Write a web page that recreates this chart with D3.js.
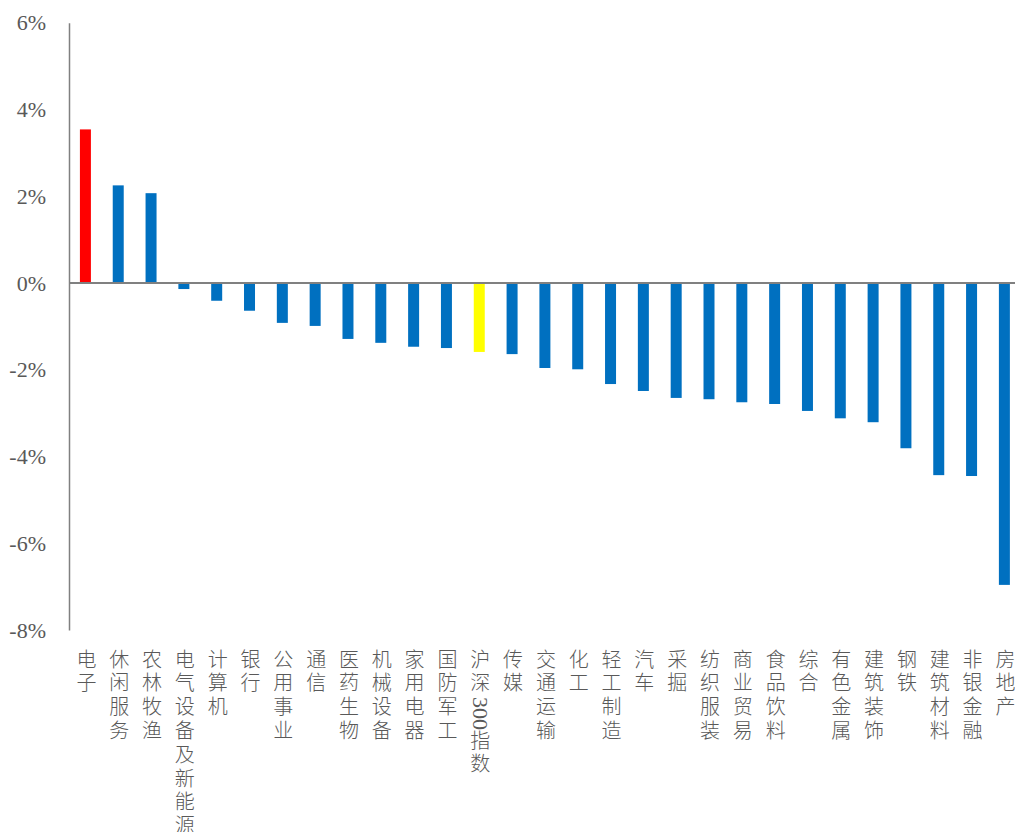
<!DOCTYPE html>
<html><head><meta charset="utf-8">
<script src="https://cdn.jsdelivr.net/npm/d3@7"></script>
<style>
html,body{margin:0;padding:0;background:#fff;}
.cat{writing-mode:vertical-rl;text-orientation:mixed;}
</style></head>
<body>
<svg id="chart" width="1015" height="832"></svg>
<script>
const categories = ["电子","休闲服务","农林牧渔","电气设备及新能源","计算机","银行","公用事业","通信","医药生物","机械设备","家用电器","国防军工","沪深300指数","传媒","交通运输","化工","轻工制造","汽车","采掘","纺织服装","商业贸易","食品饮料","综合","有色金属","建筑装饰","钢铁","建筑材料","非银金融","房地产"];
const values = [3.54,2.25,2.07,-0.14,-0.41,-0.64,-0.92,-0.99,-1.29,-1.38,-1.47,-1.50,-1.59,-1.64,-1.96,-1.99,-2.33,-2.49,-2.65,-2.68,-2.75,-2.79,-2.95,-3.12,-3.21,-3.81,-4.43,-4.45,-6.96];
const yTicks = [6,4,2,0,-2,-4,-6,-8];
const highlight = {"电子":"#FF0000","沪深300指数":"#FFFF00"};
const baseColor = "#0070C0";

const svg = d3.select("#chart");
const x = d3.scaleBand().domain(categories).range([69, 1020.8]).paddingInner(0.665).paddingOuter(0.3325);
const y = d3.scaleLinear().domain([-8, 6]).range([630, 22.7]);

// bars
svg.append("g").selectAll("rect").data(categories).join("rect")
  .attr("x", d => x(d))
  .attr("width", x.bandwidth())
  .attr("y", (d,i) => y(Math.max(0, values[i])))
  .attr("height", (d,i) => Math.abs(y(values[i]) - y(0)))
  .attr("fill", d => highlight[d] || baseColor);

// y axis
const serif = "'Liberation Serif','DejaVu Serif','Times New Roman',serif";
const yAxis = d3.axisLeft(y).tickValues(yTicks).tickSize(0).tickPadding(23).tickFormat(d => d + "%");
const gy = svg.append("g").attr("transform", "translate(69,0)").call(yAxis);
gy.select(".domain").attr("stroke", "#808080").attr("stroke-width", 1.5);
gy.selectAll("text").style("font-family", serif).style("font-size", "22px").attr("fill", "#595959");

// zero line
const x0 = d3.axisBottom(x).tickSize(0).tickFormat("");
const gz = svg.append("g").attr("transform", `translate(0,${y(0)})`).call(x0);
gz.select(".domain").attr("stroke", "#808080").attr("stroke-width", 2).attr("d", `M69,0H1020`);

// category labels (vertical writing mode; digits run sideways)
svg.append("g").selectAll("text").data(categories).join("text")
  .attr("class", "cat")
  .attr("x", d => x(d) + x.bandwidth()/2 + 1)
  .attr("y", 649)
  .style("font-family", "'Noto Sans CJK SC', sans-serif")
  .style("font-weight", 300)
  .style("font-size", "20px")
  .attr("letter-spacing", 3.8)
  .attr("fill", "#595959")
  .each(function(d) {
    const t = d3.select(this);
    (d.match(/[0-9]+|[^0-9]+/g) || []).forEach(p => {
      const s = t.append("tspan").text(p);
      if (/^[0-9]+$/.test(p)) s.style("font-family", serif).style("font-size", "22px").attr("letter-spacing", 0);
    });
  });
</script>
</body></html>
